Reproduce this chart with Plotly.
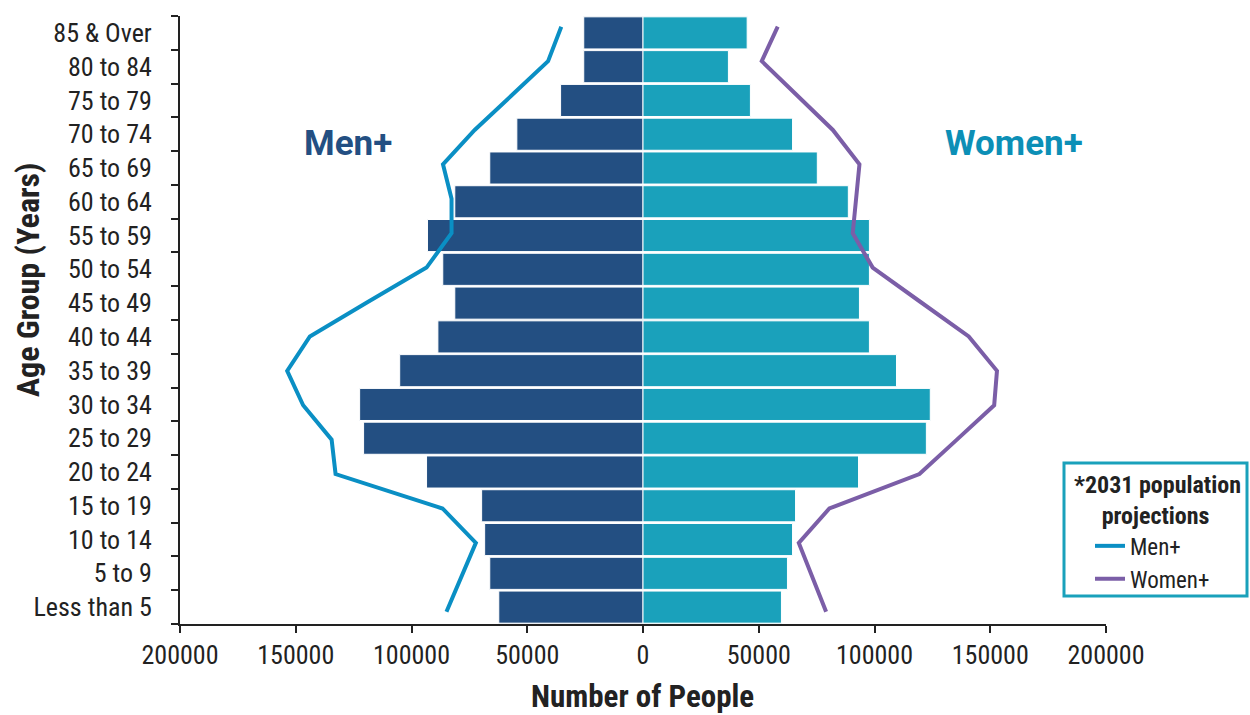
import plotly.graph_objects as go

age_groups = ["Less than 5", "5 to 9", "10 to 14", "15 to 19", "20 to 24", "25 to 29",
              "30 to 34", "35 to 39", "40 to 44", "45 to 49", "50 to 54", "55 to 59",
              "60 to 64", "65 to 69", "70 to 74", "75 to 79", "80 to 84", "85 & Over"]

men_current = [62300, 66200, 68400, 69700, 93500, 120700, 122400, 105100, 88600, 81300,
               86500, 93100, 81300, 66200, 54500, 35600, 25600, 25600]
women_current = [59800, 62400, 64600, 65900, 93100, 122400, 124100, 109500, 97800, 93500,
                 97800, 97800, 88700, 75300, 64600, 46400, 36900, 45000]

men_2031 = [84900, 78600, 72200, 86600, 132800, 134500, 146800, 153700, 143900, 118900,
            93500, 82700, 82700, 86400, 72700, 56800, 41000, 35300]
women_2031 = [79100, 73200, 67300, 80500, 119400, 135600, 151700, 152900, 140700, 119900,
              99200, 90600, 92100, 93500, 82000, 66600, 51300, 58200]

x_tickvals = [-200000, -150000, -100000, -50000, 0, 50000, 100000, 150000, 200000]
x_ticktext = ["200000", "150000", "100000", "50000", "0", "50000", "100000", "150000", "200000"]

MEN_BAR = "#234f82"
WOMEN_BAR = "#1aa1bb"
MEN_LINE = "#0a8fc4"
WOMEN_LINE = "#7b5ea7"
COND = "Roboto Condensed, Liberation Sans Narrow, Arial Narrow, Roboto, sans-serif"

fig = go.Figure()
fig.add_trace(go.Bar(y=age_groups, x=[-v for v in men_current], orientation="h",
                     marker=dict(color=MEN_BAR, line=dict(color="white", width=1)),
                     showlegend=False, name="Men+ current"))
fig.add_trace(go.Bar(y=age_groups, x=women_current, orientation="h",
                     marker=dict(color=WOMEN_BAR, line=dict(color="white", width=1)),
                     showlegend=False, name="Women+ current"))

idx = list(range(len(age_groups)))
fig.add_trace(go.Scatter(x=[-v for v in men_2031], y=idx, yaxis="y2", mode="lines",
                         line=dict(color=MEN_LINE, width=4), name="Men+"))
fig.add_trace(go.Scatter(x=women_2031, y=idx, yaxis="y2", mode="lines",
                         line=dict(color=WOMEN_LINE, width=4), name="Women+"))

# pixel geometry of the plot area (page body margin removed via post_script)
PL, PR, PT, PB = 180, 1106, 16, 624
W, H = 1250, 715


def px(x):
    return (x - PL) / (PR - PL)


def py(y):
    return (PB - y) / (PB - PT)


fig.update_layout(
    width=W, height=H,
    margin=dict(l=PL, r=W - PR, t=PT, b=H - PB, autoexpand=False),
    plot_bgcolor="white", paper_bgcolor="white",
    barmode="overlay", bargap=0.05,
    font=dict(family=COND, size=26, color="#222"),
    xaxis=dict(range=[-200000, 200000], tickvals=x_tickvals, ticktext=x_ticktext,
               showgrid=False, zeroline=False, showline=True, linecolor="#222", linewidth=2,
               ticks="outside", ticklen=7, tickwidth=2, tickcolor="#222",
               tickfont=dict(family=COND, size=26, color="#222")),
    yaxis=dict(type="category", categoryorder="array", categoryarray=age_groups,
               showgrid=False, zeroline=False, showline=True, linecolor="#222", linewidth=2,
               ticks="outside", ticklen=7, tickwidth=2, tickcolor="#222", tickson="boundaries",
               ticklabelstandoff=21,
               tickfont=dict(family=COND, size=26, color="#222"), range=[-0.5, 17.5]),
    yaxis2=dict(overlaying="y", range=[-0.357, 17.311], visible=False, showgrid=False),
    legend=dict(x=px(1072), y=py(462), xanchor="left", yanchor="top",
                borderwidth=0, bgcolor="rgba(0,0,0,0)", indentation=18,
                font=dict(family=COND, size=23, color="#222"),
                title=dict(text="<b>*2031 population<br>&nbsp;&nbsp;&nbsp;&nbsp;&nbsp;projections</b>",
                           side="top center",
                           font=dict(family=COND, size=24, color="#222"))),
    shapes=[dict(type="rect", xref="paper", yref="paper",
                 x0=px(1064), x1=px(1247), y0=py(596), y1=py(463),
                 line=dict(color=WOMEN_BAR, width=3), fillcolor="white", layer="below")],
    annotations=[
        dict(text="<b>Men+</b>", x=px(348), y=py(143), xref="paper", yref="paper",
             xanchor="center", yanchor="middle", showarrow=False,
             font=dict(family="Roboto", size=35, color=MEN_BAR)),
        dict(text="<b>Women+</b>", x=px(1014), y=py(143), xref="paper", yref="paper",
             xanchor="center", yanchor="middle", showarrow=False,
             font=dict(family="Roboto", size=35, color="#0c8fb6")),
        dict(text="<b>Age Group (Years)</b>", x=px(28), y=py(280), xref="paper", yref="paper",
             xanchor="center", yanchor="middle", showarrow=False, textangle=-90,
             font=dict(family=COND, size=32, color="#222")),
        dict(text="<b>Number of People</b>", x=px(642), y=py(696), xref="paper", yref="paper",
             xanchor="center", yanchor="middle", showarrow=False,
             font=dict(family=COND, size=31, color="#222")),
    ],
)

fig.write_html("out.html", config={"displayModeBar": False},
               post_script="document.body.style.margin='0';document.body.style.overflow='hidden';")
